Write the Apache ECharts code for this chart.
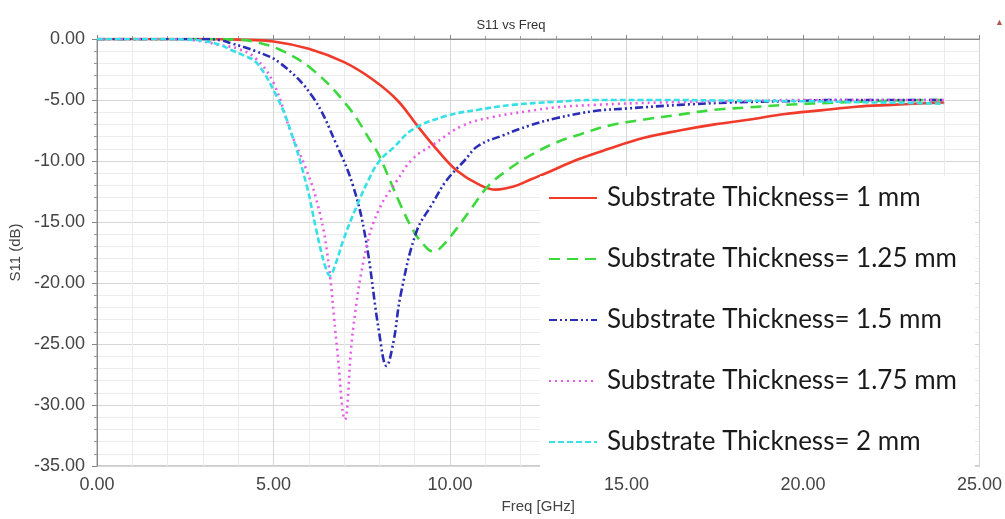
<!DOCTYPE html>
<html>
<head>
<meta charset="utf-8">
<script src="https://cdn.jsdelivr.net/npm/echarts@6/dist/echarts.min.js"></script>
<style>
  html, body { margin: 0; padding: 0; background: #fff; }
  #main { width: 1005px; height: 519px; }
</style>
</head>
<body>
<div id="main"></div>
<script>
// S11 curves, freq in GHz / S11 in dB
var freq1 = [0, 2, 3, 4, 5, 6, 7, 7.8, 8.5, 9.1, 9.7, 10.2, 10.8, 11.3, 11.8, 12.3, 12.8, 13.6, 14.5, 15.5, 16.5, 17.5, 18.5, 19.5, 20.5, 21.5, 22.5, 24];
var s11_1 = [0, 0, 0, -0.05, -0.2, -0.8, -1.9, -3.3, -5.0, -7.2, -9.3, -10.8, -11.9, -12.35, -12.1, -11.5, -10.9, -9.9, -9.0, -8.1, -7.5, -7.0, -6.6, -6.15, -5.85, -5.55, -5.4, -5.2];

var freq125 = [0, 2, 3, 4, 4.5, 5.2, 6.1, 7.1, 7.8, 8.0, 8.6, 9.0, 9.3, 9.5, 9.7, 10.2, 10.6, 11.1, 11.7, 12.3, 13, 13.7, 14.5, 15.5, 16.5, 17.5, 18.5, 19.5, 21, 22.5, 24];
var s11_125 = [0, 0, 0, -0.05, -0.25, -0.9, -2.5, -5.5, -8.6, -9.6, -13.6, -15.9, -17.0, -17.4, -17.2, -15.5, -13.9, -12.0, -10.6, -9.5, -8.5, -7.8, -7.1, -6.6, -6.2, -5.8, -5.6, -5.4, -5.2, -5.05, -5.0];

var freq15 = [0, 2, 3, 3.5, 3.8, 4.5, 5.2, 6.1, 6.8, 7.25, 7.6, 8.0, 8.2, 8.4, 8.6, 9.05, 9.5, 9.9, 10.4, 10.8, 11.5, 12.25, 13, 14.1, 15, 16.5, 18, 19.5, 21, 22.5, 24];
var s11_15 = [0, 0, 0, -0.1, -0.35, -1.0, -2.0, -4.7, -8.75, -12.0, -16.2, -24.2, -26.8, -24.8, -21.0, -15.8, -13.5, -11.6, -10.0, -8.75, -7.9, -7.1, -6.5, -5.9, -5.7, -5.4, -5.2, -5.1, -5.0, -5.0, -5.0];

var freq175 = [0, 2, 2.5, 3, 3.5, 4, 4.5, 5.0, 5.5, 5.9, 6.2, 6.5, 6.8, 7.02, 7.25, 7.63, 8.0, 8.5, 8.95, 9.5, 10.36, 11.2, 12.25, 13, 14.1, 16, 18, 20, 22, 24];
var s11_175 = [0, 0, -0.05, -0.2, -0.5, -0.8, -1.6, -3.6, -7.7, -10.5, -13.0, -17.1, -25.3, -31.2, -23.9, -17.1, -13.9, -11.6, -9.8, -8.7, -7.1, -6.4, -5.9, -5.6, -5.4, -5.2, -5.1, -5.0, -5.0, -5.0];

var freq2 = [0, 2, 2.5, 3, 3.5, 3.8, 4.2, 4.53, 5.09, 5.47, 5.94, 6.2, 6.45, 6.6, 6.75, 7.0, 7.35, 7.7, 8.0, 8.4, 8.95, 9.9, 10.8, 11.77, 13, 14.1, 16, 18, 20, 22, 24];
var s11_2 = [0, 0, -0.05, -0.15, -0.5, -0.9, -1.4, -1.97, -4.7, -7.4, -12.0, -15.5, -18.5, -19.4, -18.5, -16.3, -13.75, -11.5, -10.0, -8.9, -7.4, -6.3, -5.8, -5.4, -5.15, -5.0, -5.0, -5.05, -5.1, -5.2, -5.3];

var seriesNames = [
    'Substrate Thickness= 1 mm',
    'Substrate Thickness= 1.25 mm',
    'Substrate Thickness= 1.5 mm',
    'Substrate Thickness= 1.75 mm',
    'Substrate Thickness= 2 mm'
];
var xTicks = [0, 5, 10, 15, 20, 25];
var yTicks = [0, -5, -10, -15, -20, -25, -30, -35];

function pairs(xs, ys) {
    var out = [];
    for (var i = 0; i < xs.length; i++) {
        out.push([xs[i], ys[i]]);
    }
    return out;
}

function curve(name, xs, ys, color, type) {
    return {
        name: name,
        type: 'line',
        data: pairs(xs, ys),
        symbol: 'none',
        smooth: 0.4,
        lineStyle: {color: color, width: 2.6, type: type},
        itemStyle: {color: color}
    };
}

var myChart = echarts.init(document.getElementById('main'));
var option = {
    animation: false,
    backgroundColor: '#fff',
    title: [{
        text: 'S11 vs Freq',
        left: 506,
        top: 14,
        textAlign: 'center',
        textStyle: {fontFamily: 'Liberation Sans', fontSize: 13, fontWeight: 'normal', color: '#333'}
    }, {
        text: '▲',
        left: 990,
        top: 13,
        textStyle: {fontSize: 9, fontWeight: 'normal', color: '#b35a50'}
    }],
    grid: {
        left: 96,
        right: 24,
        top: 39,
        bottom: 49,
        show: true,
        borderColor: '#999',
        borderWidth: 1
    },
    legend: {
        orient: 'vertical',
        left: 540,
        top: 176,
        padding: [8, 18, 12, 8],
        backgroundColor: '#fff',
        itemWidth: 48,
        itemHeight: 28,
        itemGap: 33,
        data: seriesNames,
        itemStyle: {opacity: 0},
        textStyle: {
            fontFamily: 'Lato',
            fontSize: 26,
            color: '#1a1a1a',
            lineHeight: 28,
            padding: [0, 0, 0, 5]
        }
    },
    xAxis: {
        type: 'value',
        min: 0,
        max: 25,
        interval: 5,
        name: 'Freq [GHz]',
        nameLocation: 'middle',
        nameGap: 33,
        nameTextStyle: {fontFamily: 'Liberation Sans', fontSize: 15, color: '#444'},
        axisLine: {lineStyle: {color: '#888'}},
        axisTick: {inside: true, length: 4, lineStyle: {color: '#888'}},
        minorTick: {show: true, splitNumber: 5, length: 3, lineStyle: {color: '#999'}},
        splitLine: {lineStyle: {color: '#d6d6d6'}},
        minorSplitLine: {show: true, lineStyle: {color: '#ececec'}},
        axisLabel: {
            margin: 10,
            fontFamily: 'Liberation Sans',
            fontSize: 18,
            color: '#444',
            formatter: function (v) { return xTicks.indexOf(v) >= 0 ? v.toFixed(2) : ''; }
        }
    },
    yAxis: {
        type: 'value',
        min: -35,
        max: 0,
        interval: 5,
        name: 'S11 (dB)',
        nameLocation: 'middle',
        nameGap: 74,
        nameRotate: 90,
        nameTextStyle: {fontFamily: 'Liberation Sans', fontSize: 15, color: '#444'},
        axisLine: {show: true, lineStyle: {color: '#888'}},
        axisTick: {show: true, length: 5, lineStyle: {color: '#888'}},
        minorTick: {show: true, splitNumber: 5, length: 3, lineStyle: {color: '#999'}},
        splitLine: {lineStyle: {color: '#d6d6d6'}},
        minorSplitLine: {show: true, lineStyle: {color: '#ececec'}},
        axisLabel: {
            margin: 12,
            fontFamily: 'Liberation Sans',
            fontSize: 18,
            color: '#444',
            formatter: function (v) { return yTicks.indexOf(v) >= 0 ? v.toFixed(2) : ''; }
        }
    },
    series: [
        curve(seriesNames[0], freq1, s11_1, '#f03a2a', 'solid'),
        curve(seriesNames[1], freq125, s11_125, '#3cd93c', [11, 7]),
        curve(seriesNames[2], freq15, s11_15, '#2b2db5', [8, 3, 2, 3, 2, 3]),
        curve(seriesNames[3], freq175, s11_175, '#e65ce6', [2, 4]),
        curve(seriesNames[4], freq2, s11_2, '#36e0e6', [6, 3])
    ]
};
myChart.setOption(option);
</script>
</body>
</html>
